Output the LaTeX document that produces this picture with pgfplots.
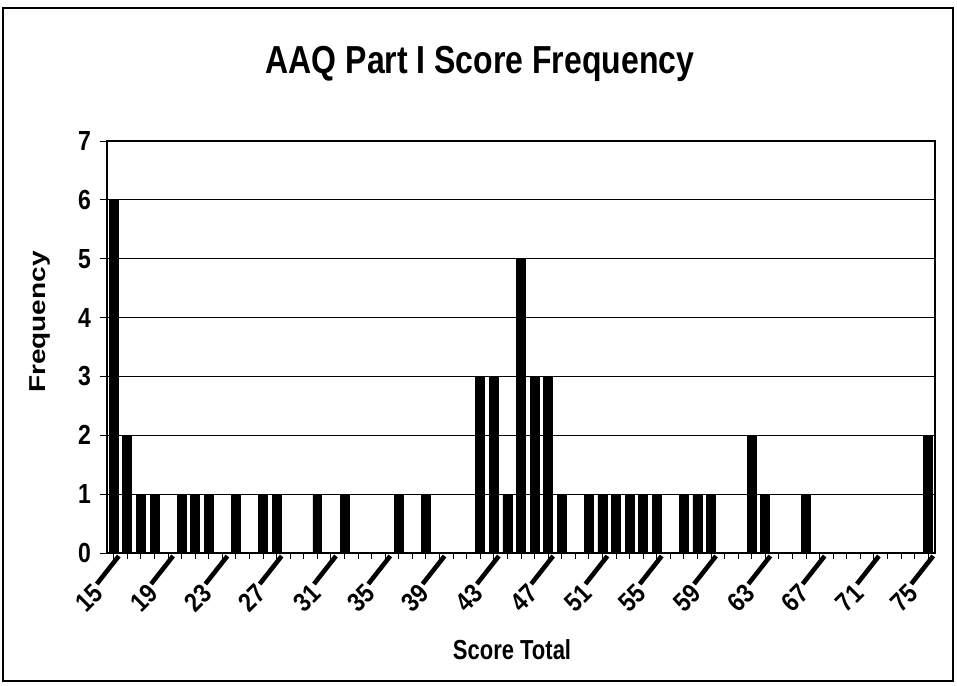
\documentclass[border=0pt]{standalone}
\usepackage{pgfplots}
\pgfplotsset{compat=1.18}
\usepackage{fontspec}
\setmainfont{Liberation Sans}
\usepackage{graphicx}
\begin{document}
\begin{tikzpicture}
\begin{axis}[
  scale only axis, width=414pt, height=206pt,
  xmin=14.5, xmax=75.5, ymin=0, ymax=7,
  ybar, bar width=0.66,
  axis line style={line width=0.9pt},
  ytick={0,...,7},
  ymajorgrids, grid style={black, line width=0.5pt},
  xtick={15,19,...,75},
  minor xtick={15,...,75},
  tick align=outside, tick pos=left,
  major tick length=3.5pt, minor tick length=3pt,
  tick style={black, line width=0.5pt},
  clip=false,
  /pgf/number format/assume math mode=true,
  yticklabel={\scalebox{1}[1.2]{\pgfmathprintnumber{\tick}}},
  yticklabel style={font=\fontsize{11.5}{14}\selectfont\bfseries, xshift=-1pt},
  xticklabel={\scalebox{1}[1.15]{\pgfmathprintnumber{\tick}}},
  xticklabel style={font=\fontsize{11.5}{13}\selectfont\bfseries, xshift=-7.5pt, yshift=-14.5pt, rotate=45, anchor=east, inner sep=0pt},
]
\addplot[fill=black, draw=black] coordinates {
(15,6) (16,2) (17,1) (18,1) (20,1) (21,1) (22,1) (24,1) (26,1) (27,1)
(30,1) (32,1) (36,1) (38,1) (42,3) (43,3) (44,1) (45,5) (46,3) (47,3)
(48,1) (50,1) (51,1) (52,1) (53,1) (54,1) (55,1) (57,1) (58,1) (59,1)
(62,2) (63,1) (66,1) (75,2)
};
\pgfplotsinvokeforeach{15,19,...,75}{
  \draw[line width=2.3pt] ([xshift=2.5pt,yshift=-1.5pt]axis cs:#1,0) -- ++(-11pt,-14pt);
}
\coordinate (O) at (rel axis cs:0,0);
\end{axis}
\begin{scope}[shift={(O)}, x=1pt, y=1pt, shift={(-53.5,-66)}]
\path[use as bounding box] (0,0) rectangle (478.5,342.5);
\draw[line width=0.8pt] (1.5,2) rectangle (476.5,338.5);
\node[font=\fontsize{16}{19}\selectfont\bfseries] at (240,310.5) {\scalebox{1}[1.22]{AAQ Part I Score Frequency}};
\node[font=\fontsize{11.5}{14}\selectfont\bfseries, rotate=90] at (20,181.5) {\scalebox{1.22}[1]{Frequency}};
\node[font=\fontsize{11}{13}\selectfont\bfseries] at (256,17.5) {\scalebox{1}[1.25]{Score Total}};
\end{scope}
\end{tikzpicture}
\end{document}
